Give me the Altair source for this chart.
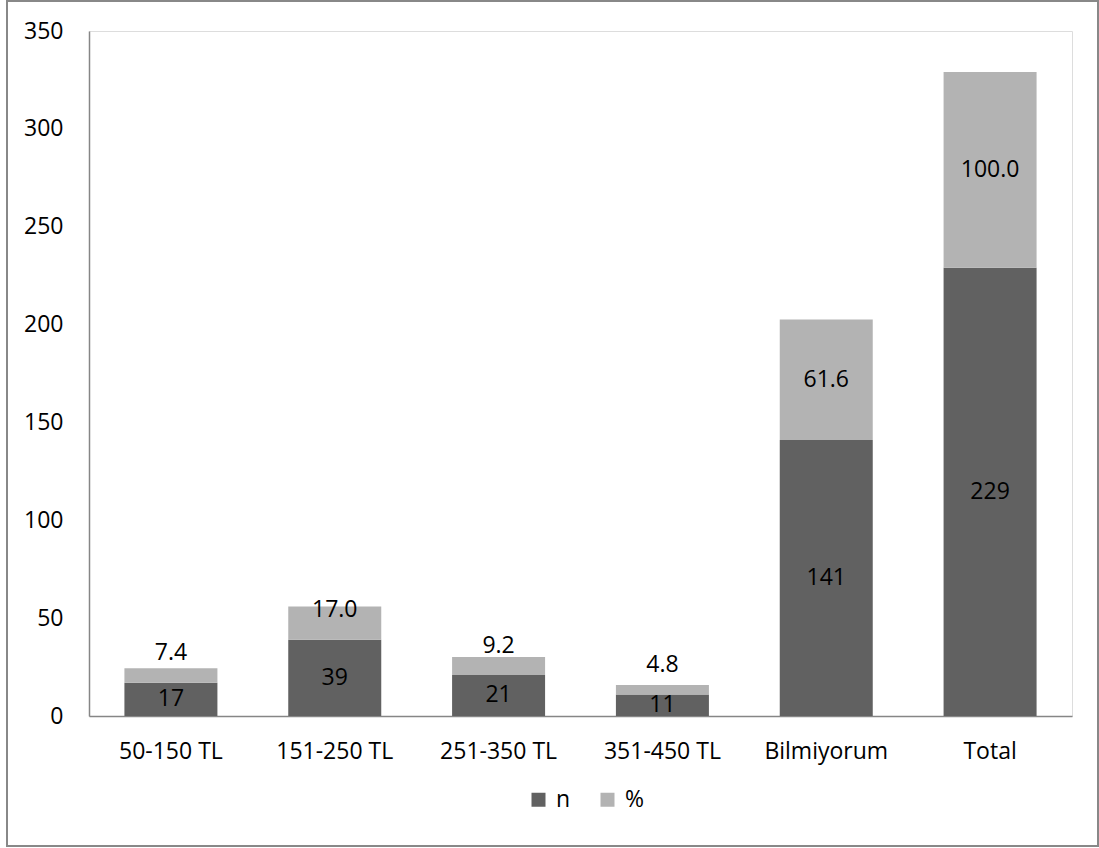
import altair as alt
import pandas as pd

# Categories (monthly amount ranges) and the two stacked series
kategoriler = ["50-150 TL", "151-250 TL", "251-350 TL", "351-450 TL", "Bilmiyorum", "Total"]
n_degerleri = [17, 39, 21, 11, 141, 229]
yuzde_degerleri = [7.4, 17.0, 9.2, 4.8, 61.6, 100.0]
seriler = ["n", "%"]
y_isaretleri = [0, 50, 100, 150, 200, 250, 300, 350]

df = pd.DataFrame({"kategori": kategoriler, "n": n_degerleri, "%": yuzde_degerleri})

FONT = "Open Sans"
FS = 23
renkler = ["#616161", "#b3b3b3"]

x_enc = alt.X(
    "kategori:N",
    sort=kategoriler,
    scale=alt.Scale(paddingInner=0.432, paddingOuter=0.216),
    axis=alt.Axis(
        title=None, labelAngle=0, ticks=False, labelPadding=24,
        domainColor="#868686", domainWidth=1.5,
        labelFontSize=FS, labelColor="#000000", labelFont=FONT,
    ),
)
y_scale = alt.Scale(domain=[0, 350], nice=False)

base = alt.Chart(df)

# Stacked bars: n from zero, % stacked on top of n
cubuklar = base.transform_fold(seriler, as_=["seri", "deger"]).transform_calculate(
    alt_sinir="datum.seri === 'n' ? 0 : datum.n",
    ust_sinir="datum.seri === 'n' ? datum.n : datum.n + datum['%']",
).mark_bar(size=93).encode(
    x=x_enc,
    y=alt.Y(
        "alt_sinir:Q", scale=y_scale,
        axis=alt.Axis(
            title=None, values=y_isaretleri, grid=False, ticks=False,
            labelPadding=26, domainColor="#868686", domainWidth=1.5,
            labelFontSize=FS, labelColor="#000000", labelFont=FONT,
        ),
    ),
    y2="ust_sinir:Q",
    color=alt.Color(
        "seri:N",
        scale=alt.Scale(domain=seriler, range=renkler),
        legend=alt.Legend(
            title=None, orient="none", direction="horizontal",
            legendX=438, legendY=757, symbolType="square", symbolSize=196,
            symbolStrokeWidth=0, labelFontSize=FS, labelFont=FONT,
            labelColor="#000000", labelOffset=6, columnPadding=25, padding=0,
        ),
    ),
)

# n labels centred in the dark segment
n_etiket = base.transform_calculate(
    orta="datum.n / 2"
).mark_text(fontSize=FS, font=FONT, color="#000000", baseline="middle").encode(
    x=alt.X("kategori:N", sort=kategoriler),
    y=alt.Y("orta:Q", scale=y_scale),
    text=alt.Text("n:Q", format="d"),
)

# % labels centred in the light segment, lifted clear of the n segment when it is thin
yuzde_etiket = base.transform_calculate(
    orta="max(datum.n + datum['%'] / 2, datum.n + 15)"
).mark_text(fontSize=FS, font=FONT, color="#000000", baseline="middle").encode(
    x=alt.X("kategori:N", sort=kategoriler),
    y=alt.Y("orta:Q", scale=y_scale),
    text=alt.Text("%:Q", format=".1f"),
)

# Outer chart frame
cerceve = alt.Chart(pd.DataFrame({"k": [0]})).mark_rect(
    fill=None, stroke="#888888", strokeWidth=2
).encode(
    x=alt.value(-82), x2=alt.value(1009), y=alt.value(-30), y2=alt.value(815)
)

chart = alt.layer(cerceve, cubuklar, n_etiket, yuzde_etiket).properties(
    width=983, height=685,
    autosize=alt.AutoSizeParams(type="none"),
    padding={"left": 89, "top": 31, "right": 27, "bottom": 132},
).configure_view(stroke=None).configure(background="#ffffff")

chart.save("out.html", embed_options={"renderer": "svg", "actions": False})
